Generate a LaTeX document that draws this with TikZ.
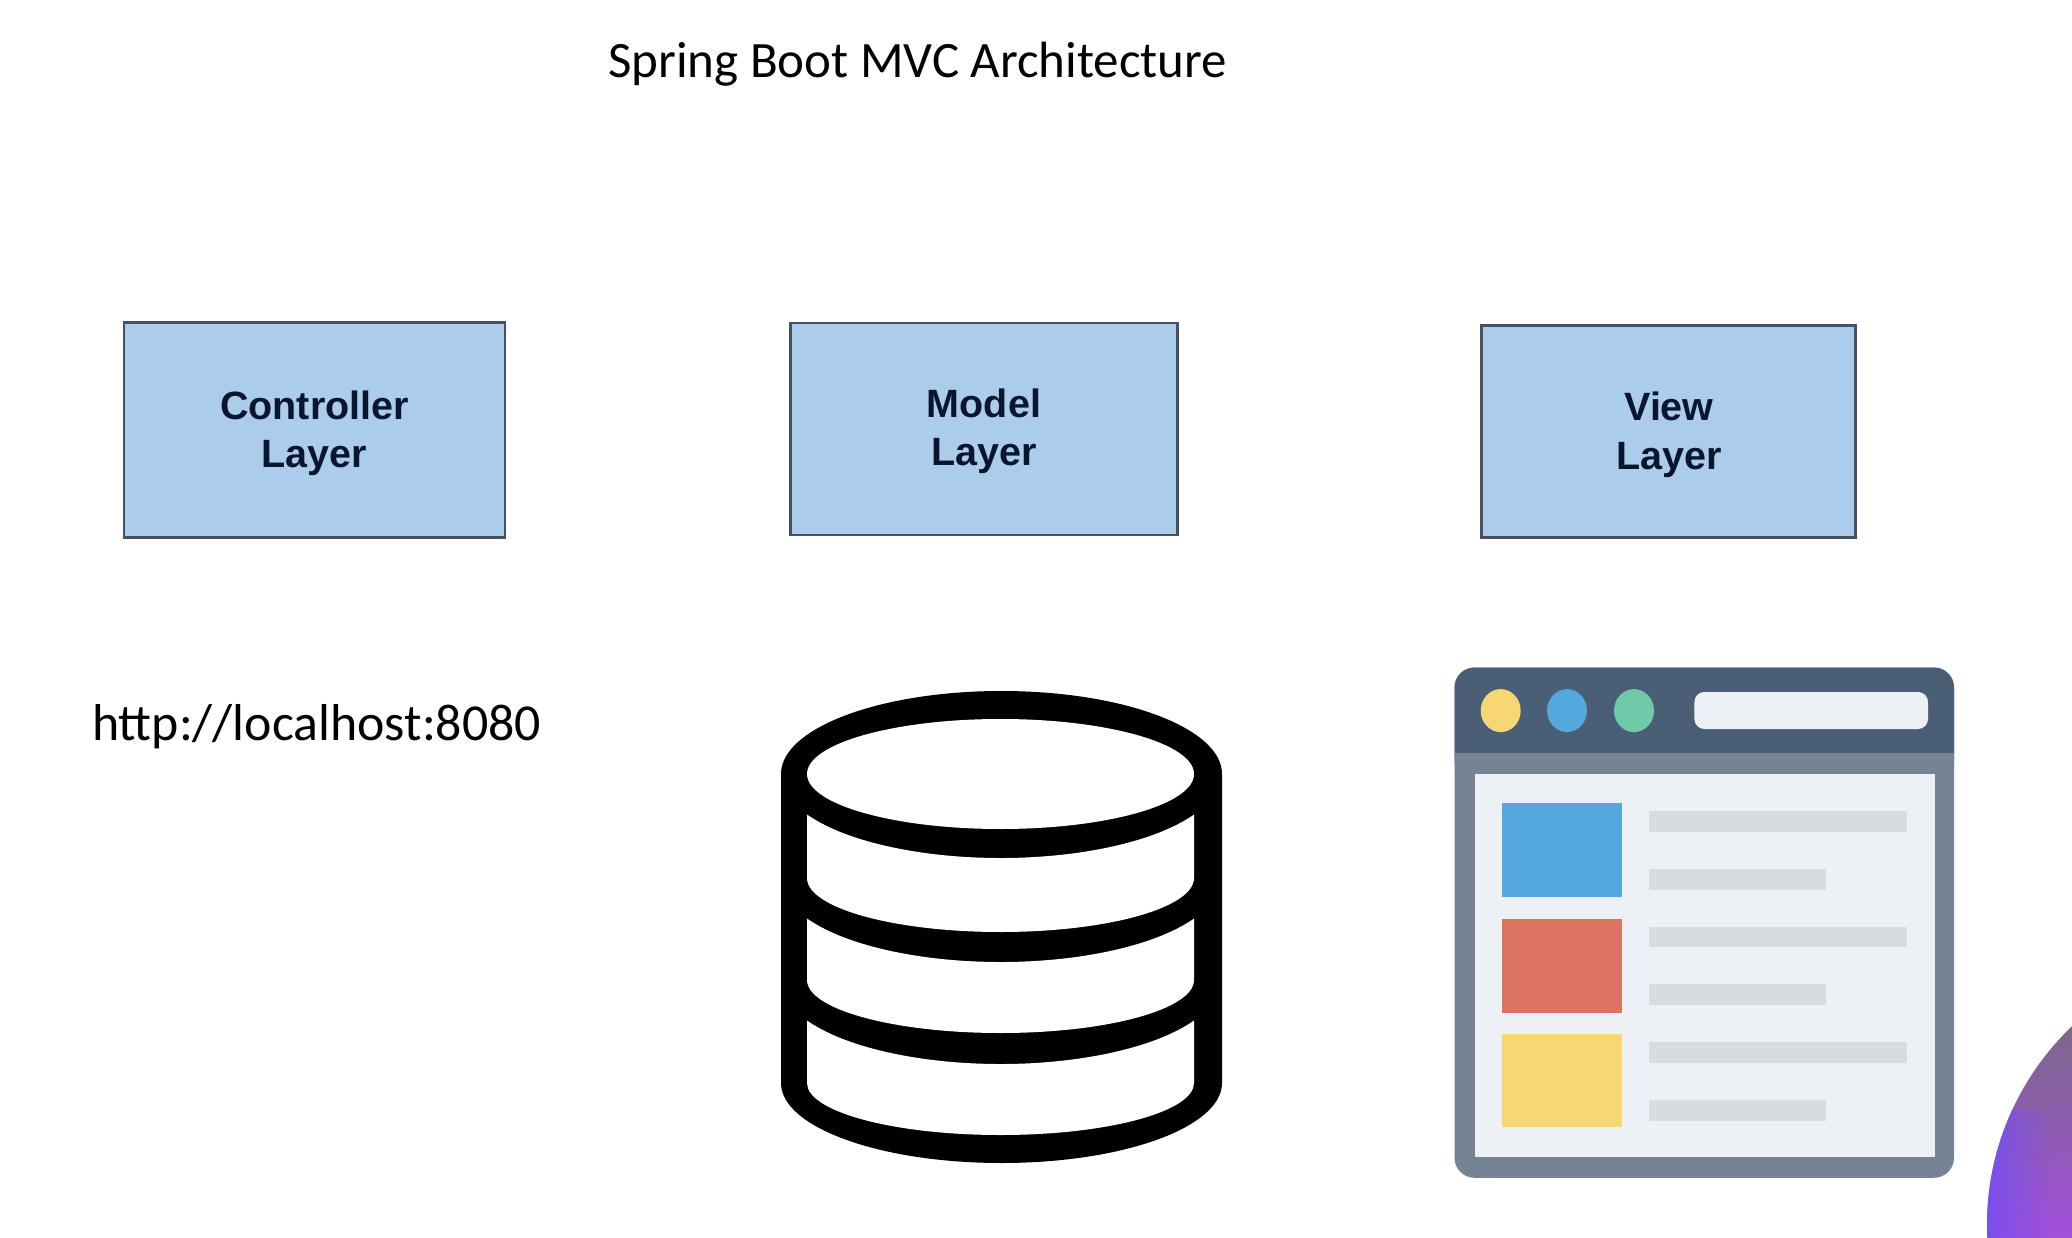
\documentclass[tikz,border=0pt]{standalone}
\usepackage{fontspec}
\setmainfont{Liberation Sans}
\newfontfamily\handfont{Carlito}
\usetikzlibrary{shapes.geometric,fadings}
\definecolor{boxfill}{HTML}{ABCDEB}
\definecolor{boxline}{HTML}{46525F}
\definecolor{boxtext}{HTML}{0A1530}
\definecolor{brdark}{HTML}{4A5F75}
\definecolor{brmid}{HTML}{748495}
\definecolor{brpanel}{HTML}{EDF1F5}
\definecolor{brbar}{HTML}{D9DCDF}
\definecolor{cyellow}{HTML}{F7D774}
\definecolor{cblue}{HTML}{55A8DC}
\definecolor{cgreen}{HTML}{70C9A8}
\definecolor{cred}{HTML}{DC7360}
\definecolor{blobtop}{HTML}{7C6888}
\definecolor{blobbottom}{HTML}{A24FDC}
\definecolor{blobleft}{HTML}{774FF2}
\tikzset{
  layerbox/.style={draw=boxline,line width=2.5pt,fill=boxfill,inner sep=0pt},
  layertext/.style={text=boxtext,align=center,font=\fontsize{39.5}{47.5}\selectfont\bfseries,inner sep=0pt},
  handtext/.style={font=\handfont\fontsize{58}{60}\selectfont,text=black,inner sep=0pt,anchor=base west},
  barlight/.style={fill=brbar},
}
\begin{document}
\begin{tikzpicture}[x=1pt,y=1pt,yscale=-1]
\useasboundingbox (0,0) rectangle (2072,1238);
\fill[white] (0,0) rectangle (2072,1238);
% purple corner
\begin{scope}
\clip (2262,1225) circle[radius=275pt];
\shade[top color=blobtop, bottom color=blobbottom] (1980,1020) rectangle (2072,1238);
\fill[blobleft,path fading=east] (1980,1110) rectangle (2050,1238);
\end{scope}
% title and url
\node[handtext] (title) at (608,78) {\resizebox{619pt}{!}{Spring Boot MVC Architecture}};
\node[handtext] (url) at (92,740) {\resizebox{449pt}{!}{http://localhost:8080}};
% layer boxes
\node[layerbox,minimum width=381pt,minimum height=215pt] (ctrl) at (314.5,430) {};
\node[layertext] (ctrltext) at (314.5,433.5) {Controller\\Layer};
\node[layerbox,minimum width=387pt,minimum height=212pt] (model) at (984,429) {};
\node[layertext] (modeltext) at (984,431.5) {Model\\Layer};
\node[layerbox,minimum width=374pt,minimum height=212pt] (view) at (1668.5,431.5) {};
\node[layertext,font=\fontsize{39.5}{49}\selectfont\bfseries] (viewtext) at (1669,434.5) {View\\Layer};
% database
\fill[black] (781,774) arc[start angle=180,end angle=360,x radius=220.5pt,y radius=83pt]
  -- (1222,1083) arc[start angle=0,end angle=180,x radius=220.5pt,y radius=80pt] -- cycle;
\fill[white] (1000.5,774) ellipse[x radius=193.5pt,y radius=55pt];
\foreach \ya/\yb/\ib in {774/878/54,878/980/53,980/1083/52}{
  \fill[white] (807,\ya+40.5) arc[start angle=152,end angle=28,x radius=219.2pt,y radius=82pt]
    -- (1194,\yb) arc[start angle=0,end angle=180,x radius=193.5pt,y radius=\ib pt] -- cycle;
}
% browser window
\fill[brmid,rounded corners=20pt] (1454.5,667.5) rectangle (1954,1177.8);
\fill[brdark,rounded corners=20pt] (1454.5,667.5) rectangle (1954,780);
\fill[brmid] (1454.5,753) rectangle (1954,785);
\fill[brpanel] (1474.5,774) rectangle (1935,1157);
\fill[cyellow] (1500.7,710.6) ellipse[x radius=20pt,y radius=21.5pt];
\fill[cblue] (1567,710.6) ellipse[x radius=20pt,y radius=21.5pt];
\fill[cgreen] (1634,710.6) ellipse[x radius=20pt,y radius=21.5pt];
\fill[brpanel,rounded corners=10pt] (1694.4,692) rectangle (1928,729);
\fill[cblue] (1501.5,803) rectangle (1622,897.4);
\fill[cred] (1501.5,918.8) rectangle (1622,1012.6);
\fill[cyellow] (1501.5,1034) rectangle (1622,1127.4);
\fill[barlight] (1648.7,810.9) rectangle (1907,831.5);
\fill[barlight] (1648.7,868.8) rectangle (1826,889.8);
\fill[barlight] (1648.7,926.8) rectangle (1907,947);
\fill[barlight] (1648.7,984) rectangle (1826,1005);
\fill[barlight] (1648.7,1041.6) rectangle (1907,1062.6);
\fill[barlight] (1648.7,1099.6) rectangle (1826,1120.5);
\end{tikzpicture}
\end{document}
